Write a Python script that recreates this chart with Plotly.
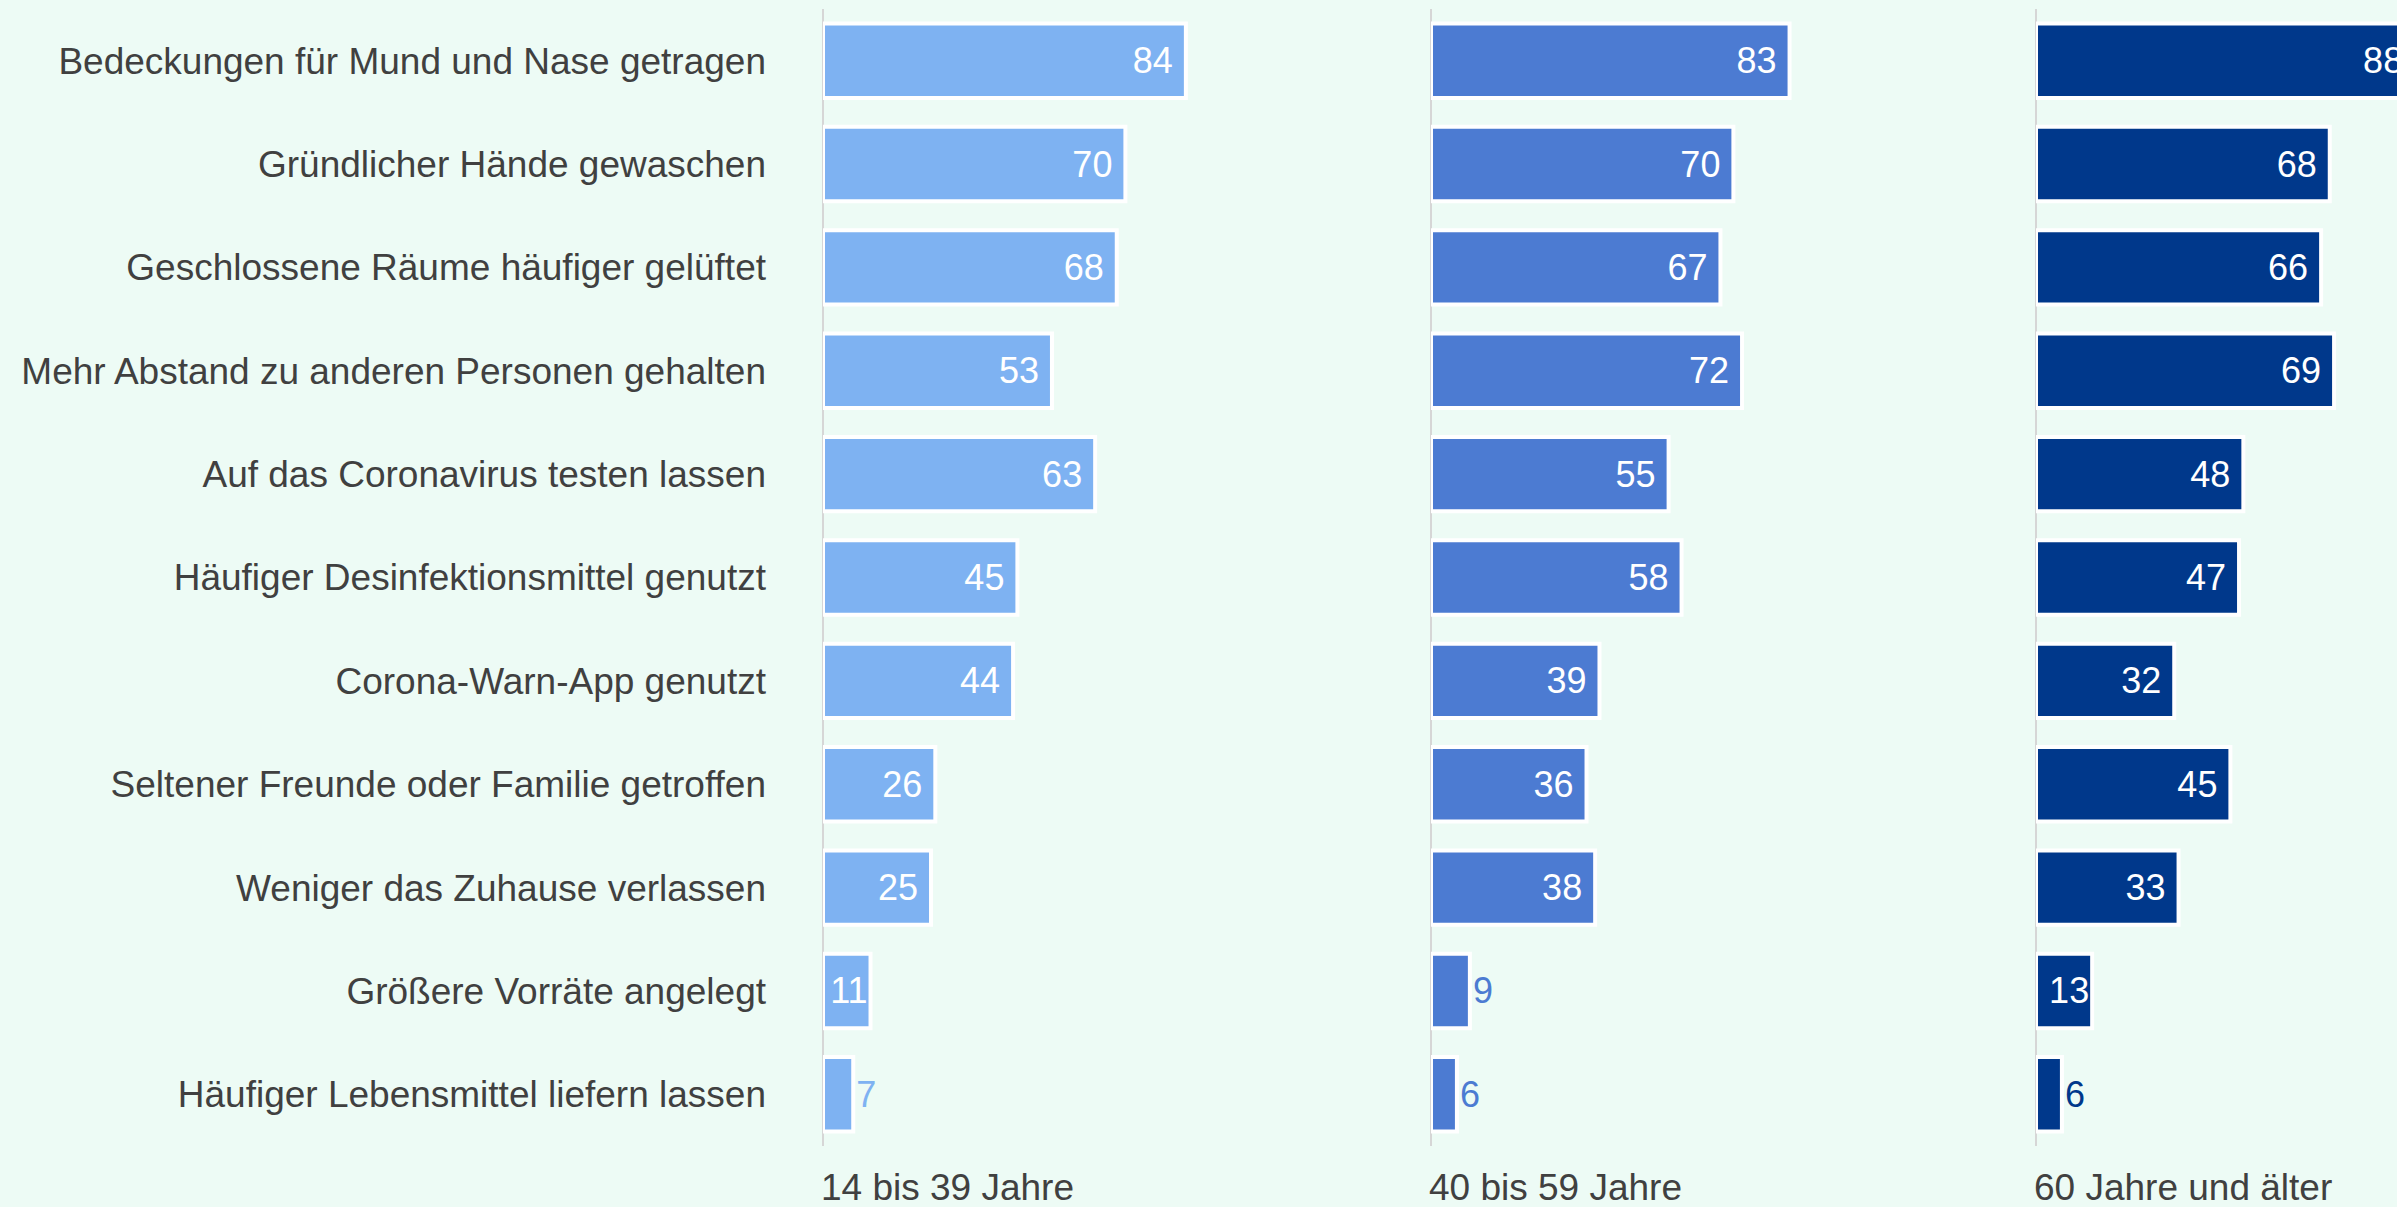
import plotly.graph_objects as go

categories = [
    "Bedeckungen für Mund und Nase getragen",
    "Gründlicher Hände gewaschen",
    "Geschlossene Räume häufiger gelüftet",
    "Mehr Abstand zu anderen Personen gehalten",
    "Auf das Coronavirus testen lassen",
    "Häufiger Desinfektionsmittel genutzt",
    "Corona-Warn-App genutzt",
    "Seltener Freunde oder Familie getroffen",
    "Weniger das Zuhause verlassen",
    "Größere Vorräte angelegt",
    "Häufiger Lebensmittel liefern lassen",
]
groups = ["14 bis 39 Jahre", "40 bis 59 Jahre", "60 Jahre und älter"]
values_14_39 = [84, 70, 68, 53, 63, 45, 44, 26, 25, 11, 7]
values_40_59 = [83, 70, 67, 72, 55, 58, 39, 36, 38, 9, 6]
values_60_plus = [88, 68, 66, 69, 48, 47, 32, 45, 33, 13, 6]
colors = ["#7EB2F2", "#4C7BD2", "#00388B"]

W, H = 2397, 1207
FONT = "Arial, Liberation Sans, sans-serif"
TXT = "#404040"
BG = "#EDFBF5"
SCALE = 4.32  # px per unit

domains_px = [(823, 1403), (1431, 2011), (2036, W)]
series = [values_14_39, values_40_59, values_60_plus]


def label(v):
    # wider labels get a little breathing room from the bar end
    return f"{v}\u00a0" if v >= 20 else f"{v}"


fig = go.Figure()
for i, (vals, col) in enumerate(zip(series, colors)):
    ax = "x" if i == 0 else f"x{i+1}"
    fig.add_trace(go.Bar(
        y=categories, x=vals, orientation="h",
        xaxis=ax, yaxis="y",
        marker=dict(color=col, line=dict(color="white", width=4)),
        width=0.72,
        text=[label(v) for v in vals],
        textposition=["inside" if v >= 10 else "outside" for v in vals],
        insidetextanchor="end",
        insidetextfont=dict(color="white", size=36, family=FONT),
        outsidetextfont=dict(color=col, size=36, family=FONT),
        cliponaxis=True,
        hoverinfo="skip",
        showlegend=False,
    ))

layout = dict(
    width=W, height=H,
    paper_bgcolor=BG, plot_bgcolor=BG,
    margin=dict(l=0, r=0, t=9, b=61),
    font=dict(family=FONT, color=TXT, size=36),
    uniformtext=dict(minsize=36, mode="show"),
    yaxis=dict(
        anchor="x", categoryorder="array", categoryarray=categories,
        range=[10.5, -0.5], showgrid=False, zeroline=False, showline=False,
        ticks="", ticklabelstandoff=56,
        tickfont=dict(size=37, color=TXT, family=FONT),
    ),
    annotations=[],
)
for i, (a, b) in enumerate(domains_px):
    key = "xaxis" if i == 0 else f"xaxis{i+1}"
    layout[key] = dict(
        domain=[a / W, b / W], anchor="y",
        range=[0, (b - a) / SCALE],
        showgrid=False, showticklabels=False, ticks="", showline=False,
        zeroline=True, zerolinecolor="#D6D6D6", zerolinewidth=2,
    )
    layout["annotations"].append(dict(
        text=groups[i], xref=("x" if i == 0 else f"x{i+1}"), x=0,
        yref="paper", y=-(1187 - 1146) / (H - 9 - 61),
        xanchor="left", yanchor="middle", showarrow=False,
        xshift=-4,
        font=dict(size=37, color=TXT, family=FONT),
    ))

fig.update_layout(**layout)
fig.write_html(
    "out.html",
    config={"displayModeBar": False},
    post_script="document.body.style.margin='0';document.body.style.overflow='hidden';",
)
